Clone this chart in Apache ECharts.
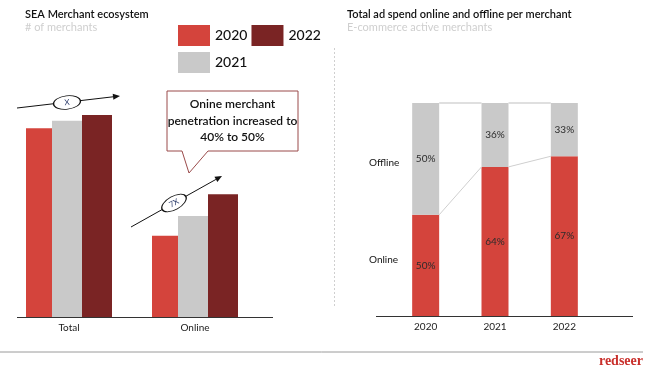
<!DOCTYPE html>
<html><head><meta charset="utf-8">
<script src="https://cdn.jsdelivr.net/npm/echarts@6/dist/echarts.min.js"></script>
<style>html,body{margin:0;padding:0;background:#fff}#c{width:659px;height:378px}</style>
</head><body><div id="c"></div>
<script>
// Left chart data (index, Total 2020 = 100)
const leftCategories = ['Total', 'Online'];
const values2020 = [100, 43];
const values2021 = [104, 53.5];
const values2022 = [107, 65];
// Right chart data (share of ad spend, as drawn)
const years = ['2020', '2021', '2022'];
const onlineShare = [47.5, 70, 75];
const offlineShare = [52.5, 30, 25];
const onlineLabels = ['50%', '64%', '67%'];
const offlineLabels = ['50%', '36%', '33%'];

const RED = '#D4443C', GRAY = '#C9C9C9', DARK = '#7A2424';
const FONT = 'Lato';
const chart = echarts.init(document.getElementById('c'));

function arrow(x1, y1, x2, y2) {
  const a = Math.atan2(y2 - y1, x2 - x1), L = 7, W = 3;
  const bx = x2 - L * Math.cos(a), by = y2 - L * Math.sin(a);
  return [
    {type: 'line', shape: {x1, y1, x2: bx, y2: by}, style: {stroke: '#111', lineWidth: 1}},
    {type: 'polygon', shape: {points: [[x2, y2], [bx - W * Math.sin(a), by + W * Math.cos(a)], [bx + W * Math.sin(a), by - W * Math.cos(a)]]}, style: {fill: '#111'}}
  ];
}
function bubble(cx, cy, rot, txt) {
  return {type: 'group', x: cx, y: cy, rotation: rot, z: 10, children: [
    {type: 'circle', shape: {cx: 0, cy: 0, r: 13.5}, scaleY: 0.5, style: {fill: '#fff', stroke: '#111', lineWidth: 1, strokeNoScale: true}},
    {type: 'text', style: {text: txt, x: 0, y: 0, align: 'center', verticalAlign: 'middle', fill: '#2a3a6a', font: '8px ' + FONT}}
  ]};
}

const barLabel = (arr) => ({show: true, position: 'inside', color: '#2b2b2b', fontSize: 10, fontFamily: FONT, formatter: p => arr[p.dataIndex]});
const legendBase = {itemWidth: 32, itemHeight: 21, icon: 'rect', padding: 0, itemGap: 4,
  textStyle: {fontSize: 14, color: '#111', fontFamily: FONT, fontWeight: 500}};

chart.setOption({
  animation: false,
  textStyle: {fontFamily: FONT},
  title: [
    {text: 'SEA Merchant ecosystem', subtext: '# of merchants', left: 25, top: 9, itemGap: 2, padding: 0,
     textStyle: {fontSize: 11, fontWeight: 600, color: '#111', fontFamily: FONT},
     subtextStyle: {fontSize: 11, color: '#cfcfcf', fontFamily: FONT}},
    {text: 'Total ad spend online and offline per merchant', subtext: 'E-commerce active merchants', left: 347, top: 9, itemGap: 2, padding: 0,
     textStyle: {fontSize: 11, fontWeight: 600, color: '#111', fontFamily: FONT},
     subtextStyle: {fontSize: 11, color: '#cfcfcf', fontFamily: FONT}}
  ],
  legend: [
    Object.assign({data: ['2020', '2022'], left: 178, top: 25}, legendBase),
    Object.assign({data: ['2021'], left: 178, top: 52}, legendBase)
  ],
  grid: [
    {left: 6, right: 401, top: 81, bottom: 61},
    {left: 391, right: 60, top: 103, bottom: 62}
  ],
  xAxis: [
    {type: 'category', gridIndex: 0, data: leftCategories, axisLine: {show: false}, axisTick: {show: false},
     axisLabel: {color: '#222', fontSize: 10, margin: 6, fontFamily: FONT}},
    {type: 'category', gridIndex: 1, data: years, axisLine: {show: false}, axisTick: {show: false},
     axisLabel: {color: '#222', fontSize: 10, margin: 6, fontFamily: FONT}}
  ],
  yAxis: [
    {type: 'value', gridIndex: 0, min: 0, max: 125, show: false},
    {type: 'value', gridIndex: 1, min: 0, max: 100, show: false}
  ],
  series: [
    {name: '2020', type: 'bar', xAxisIndex: 0, yAxisIndex: 0, data: values2020, barWidth: 26, barGap: '0%', itemStyle: {color: RED}},
    {name: '2021', type: 'bar', xAxisIndex: 0, yAxisIndex: 0, data: values2021, barWidth: 30, barGap: '0%', itemStyle: {color: GRAY}},
    {name: '2022', type: 'bar', xAxisIndex: 0, yAxisIndex: 0, data: values2022, barWidth: 30, barGap: '0%', itemStyle: {color: DARK}},
    {name: 'Online', type: 'bar', xAxisIndex: 1, yAxisIndex: 1, stack: 's', data: onlineShare, barWidth: 27, itemStyle: {color: RED}, label: barLabel(onlineLabels)},
    {name: 'Offline', type: 'bar', xAxisIndex: 1, yAxisIndex: 1, stack: 's', data: offlineShare, barWidth: 27, itemStyle: {color: GRAY}, label: barLabel(offlineLabels)},
    {name: 'connect', type: 'custom', xAxisIndex: 1, yAxisIndex: 1, z: 5, silent: true,
     data: years.map((y, i) => [i, onlineShare[i]]),
     renderItem: (params, api) => {
       const i = api.value(0);
       if (i >= years.length - 1) return null;
       const hw = 13.5;
       const a = api.coord([i, onlineShare[i]]);
       const b = api.coord([i + 1, onlineShare[i + 1]]);
       const t1 = api.coord([i, 100]);
       const t2 = api.coord([i + 1, 100]);
       return {type: 'group', children: [
         {type: 'line', shape: {x1: a[0] + hw, y1: a[1], x2: b[0] - hw, y2: b[1]}, style: {stroke: '#cfcfcf', lineWidth: 1}},
         {type: 'line', shape: {x1: t1[0] + hw, y1: t1[1], x2: t2[0] - hw, y2: t2[1]}, style: {stroke: '#d5d5d5', lineWidth: 1.5}}
       ]};
     }}
  ],
  graphic: [
    {type: 'line', shape: {x1: 17, y1: 317.5, x2: 273, y2: 317.5}, style: {stroke: '#333', lineWidth: 1}},
    {type: 'line', shape: {x1: 376, y1: 316.5, x2: 633, y2: 316.5}, style: {stroke: '#333', lineWidth: 1}},
    {type: 'line', shape: {x1: 334.5, y1: 48, x2: 334.5, y2: 308}, style: {stroke: '#cfcfcf', lineWidth: 1, lineDash: [2, 2]}},
    {type: 'line', shape: {x1: 0, y1: 352, x2: 643, y2: 352}, style: {stroke: '#9a9a9a', lineWidth: 1}},
    {type: 'text', style: {text: 'redseer', x: 643, y: 361, align: 'right', verticalAlign: 'middle', fill: '#C9302C', font: 'bold 14px "Liberation Serif"'}},
    {type: 'text', style: {text: 'Offline', x: 369, y: 163, verticalAlign: 'middle', fill: '#111', font: '10px ' + FONT}},
    {type: 'text', style: {text: 'Online', x: 369, y: 260, verticalAlign: 'middle', fill: '#111', font: '10px ' + FONT}},
    ...arrow(17, 108, 120, 96),
    bubble(67, 102.5, 0.115, 'X'),
    ...arrow(131, 227, 222, 176),
    bubble(174, 203, 0.51, '7X'),
    {type: 'polygon', z: 20, shape: {points: [[167, 91], [298, 91], [298, 151], [208, 151], [189, 173], [182, 151], [167, 151]]},
     style: {fill: '#fff', stroke: '#9a4a4a', lineWidth: 1}},
    {type: 'text', z: 21, style: {text: 'Onine merchant\npenetration increased to\n40% to 50%', x: 232.5, y: 121, align: 'center', verticalAlign: 'middle',
     lineHeight: 16.5, fill: '#111', font: '600 12px ' + FONT}}
  ]
});
</script></body></html>
